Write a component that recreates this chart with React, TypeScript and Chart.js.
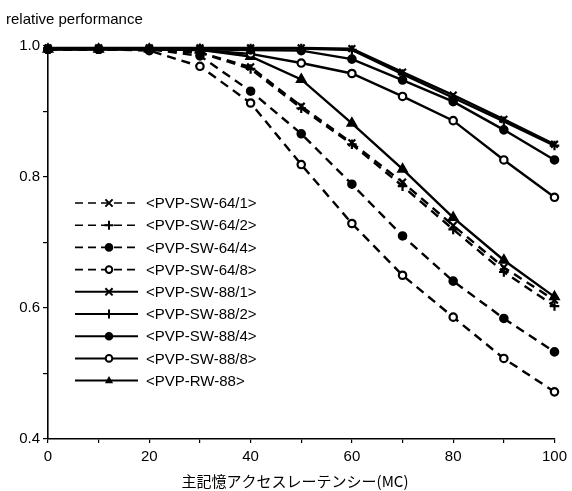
import React, { useEffect, useRef } from "react";
import { Chart, registerables } from "chart.js";

Chart.register(...registerables);

const latency = [0, 10, 20, 30, 40, 50, 60, 70, 80, 90, 100];

const seriesNames = [
  "<PVP-SW-64/1>",
  "<PVP-SW-64/2>",
  "<PVP-SW-64/4>",
  "<PVP-SW-64/8>",
  "<PVP-SW-88/1>",
  "<PVP-SW-88/2>",
  "<PVP-SW-88/4>",
  "<PVP-SW-88/8>",
  "<PVP-RW-88>",
];

const sw64_1 = [0.995, 0.995, 0.995, 0.99, 0.968, 0.908, 0.852, 0.792, 0.726, 0.662, 0.612];
const sw64_2 = [0.995, 0.995, 0.995, 0.99, 0.965, 0.905, 0.85, 0.786, 0.72, 0.655, 0.603];
const sw64_4 = [0.995, 0.995, 0.995, 0.985, 0.931, 0.866, 0.789, 0.71, 0.641, 0.584, 0.533];
const sw64_8 = [0.995, 0.995, 0.993, 0.969, 0.913, 0.819, 0.729, 0.65, 0.586, 0.523, 0.472];
const sw88_1 = [0.997, 0.997, 0.997, 0.997, 0.997, 0.997, 0.996, 0.96, 0.925, 0.888, 0.85];
const sw88_2 = [0.996, 0.996, 0.996, 0.996, 0.996, 0.996, 0.994, 0.957, 0.921, 0.885, 0.848];
const sw88_4 = [0.995, 0.995, 0.995, 0.995, 0.994, 0.993, 0.98, 0.948, 0.915, 0.872, 0.826];
const sw88_8 = [0.995, 0.995, 0.995, 0.994, 0.988, 0.974, 0.958, 0.923, 0.886, 0.826, 0.769];
const rw88 = [0.995, 0.995, 0.995, 0.994, 0.984, 0.949, 0.882, 0.812, 0.738, 0.673, 0.617];

const seriesValues = [sw64_1, sw64_2, sw64_4, sw64_8, sw88_1, sw88_2, sw88_4, sw88_8, rw88];
const markerStyles = ["crossRot", "cross", "circle", "circle", "crossRot", "cross", "circle", "circle", "triangle"];
const markerFilled = [true, true, true, false, true, true, true, false, true];
const dashed = [true, true, true, true, false, false, false, false, false];

const yTitle = "relative performance";
const xTitle = "主記憶アクセスレーテンシー(MC)";

const LATIN = "'Liberation Sans', Arial, Helvetica, sans-serif";
const CJK = "'Noto Sans CJK JP', 'Liberation Sans', sans-serif";
const DASH = [9, 6];

function drawMarker(ctx: CanvasRenderingContext2D, style: string, x: number, y: number, r: number, filled: boolean) {
  ctx.save();
  ctx.setLineDash([]);
  ctx.strokeStyle = "#000";
  ctx.fillStyle = filled ? "#000" : "#fff";
  ctx.lineWidth = 2;
  ctx.beginPath();
  if (style === "circle") {
    ctx.arc(x, y, r, 0, Math.PI * 2);
    ctx.fill();
    ctx.stroke();
  } else if (style === "cross") {
    ctx.moveTo(x - r, y);
    ctx.lineTo(x + r, y);
    ctx.moveTo(x, y - r);
    ctx.lineTo(x, y + r);
    ctx.stroke();
  } else if (style === "crossRot") {
    const d = r * 0.8;
    ctx.moveTo(x - d, y - d);
    ctx.lineTo(x + d, y + d);
    ctx.moveTo(x + d, y - d);
    ctx.lineTo(x - d, y + d);
    ctx.stroke();
  } else if (style === "triangle") {
    ctx.moveTo(x, y - r);
    ctx.lineTo(x + r * 0.9, y + r * 0.6);
    ctx.lineTo(x - r * 0.9, y + r * 0.6);
    ctx.closePath();
    ctx.fill();
  }
  ctx.restore();
}

const overlayPlugin = {
  id: "overlay",
  afterDraw(chart: any) {
    const ctx: CanvasRenderingContext2D = chart.ctx;
    ctx.save();
    ctx.fillStyle = "#000";
    ctx.font = `15px ${LATIN}`;
    ctx.textAlign = "left";
    ctx.textBaseline = "alphabetic";
    ctx.fillText(yTitle, 6, 24);

    ctx.font = `15px ${CJK}`;
    ctx.textAlign = "center";
    ctx.textBaseline = "middle";
    ctx.fillText(xTitle, 295, 481);

    // legend
    const x0 = 75;
    const x1 = 138;
    const xm = 109;
    const textX = 146;
    seriesNames.forEach((name, i) => {
      const y = 203 + i * 22.2;
      ctx.save();
      ctx.strokeStyle = "#000";
      ctx.lineWidth = dashed[i] ? 1.6 : 2;
      ctx.setLineDash(dashed[i] ? [8, 5] : []);
      ctx.beginPath();
      ctx.moveTo(x0, y);
      ctx.lineTo(x1, y);
      ctx.stroke();
      ctx.restore();
      drawMarker(ctx, markerStyles[i], xm, y, markerStyles[i] === "circle" ? 3.3 : 4.5, markerFilled[i]);
      ctx.fillStyle = "#000";
      ctx.font = `15px ${LATIN}`;
      ctx.textAlign = "left";
      ctx.textBaseline = "middle";
      ctx.fillText(name, textX, y + 1);
    });
    ctx.restore();
  },
};

export default function App() {
  const canvasRef = useRef<HTMLCanvasElement | null>(null);

  useEffect(() => {
    if (!canvasRef.current) return;
    const datasets = seriesNames.map((name, i) => ({
      label: name,
      data: latency.map((x, j) => ({ x, y: seriesValues[i][j] })),
      borderColor: "#000",
      backgroundColor: "#000",
      borderWidth: 2.4,
      borderDash: dashed[i] ? DASH : [],
      pointStyle: markerStyles[i],
      pointRadius: markerStyles[i] === "circle" ? 3.7 : 4.8,
      pointBorderWidth: 2.2,
      pointBorderColor: "#000",
      pointBackgroundColor: markerFilled[i] ? "#000" : "#fff",
      tension: 0,
      fill: false,
      clip: false,
    }));

    const chart = new Chart(canvasRef.current, {
      type: "line",
      data: { datasets },
      options: {
        animation: false,
        responsive: false,
        devicePixelRatio: 1,
        layout: { padding: { top: 46, right: 16, left: 0, bottom: 0 } },
        plugins: {
          legend: { display: false },
          tooltip: { enabled: false },
          title: { display: false },
        },
        scales: {
          x: {
            type: "linear",
            min: 0,
            max: 100,
            afterFit: (scale: any) => {
              scale.height = 52;
            },
            border: { display: true, color: "#000", width: 1.6 },
            grid: { drawOnChartArea: false, drawTicks: true, tickLength: 4, color: "#000", lineWidth: 1.2 },
            ticks: {
              stepSize: 10,
              autoSkip: false,
              maxRotation: 0,
              color: "#000",
              padding: 5,
              font: { family: LATIN, size: 15 },
              callback: (v: any) => (Math.round(v) % 20 === 0 ? String(Math.round(v)) : ""),
            },
          },
          y: {
            type: "linear",
            min: 0.4,
            max: 1.0,
            afterFit: (scale: any) => {
              scale.width = 48;
            },
            border: { display: true, color: "#000", width: 1.6 },
            grid: { drawOnChartArea: false, drawTicks: true, tickLength: 5, color: "#000", lineWidth: 1.2 },
            ticks: {
              stepSize: 0.1,
              autoSkip: false,
              color: "#000",
              padding: 3,
              font: { family: LATIN, size: 15 },
              callback: (v: any) => {
                const n = Math.round(Number(v) * 10);
                return n % 2 === 0 ? (n / 10).toFixed(1) : "";
              },
            },
          },
        },
      },
      plugins: [overlayPlugin],
    } as any);

    return () => chart.destroy();
  }, []);

  return (
    <div style={{ position: "absolute", left: 0, top: 0, width: 572, height: 491, background: "#fff" }}>
      <canvas ref={canvasRef} width={572} height={491} style={{ display: "block", width: 572, height: 491 }} />
    </div>
  );
}
